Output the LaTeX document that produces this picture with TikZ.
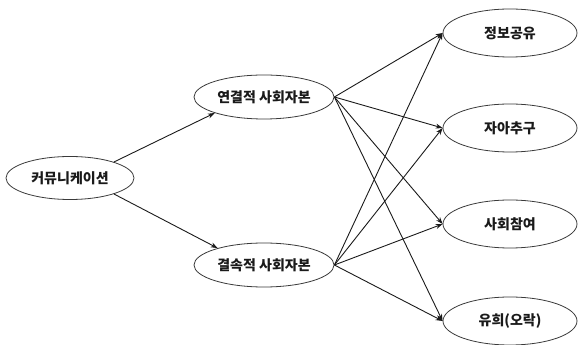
\documentclass[tikz,border=0pt]{standalone}
\usepackage{fontspec}
\setmainfont{Noto Sans CJK KR}
\usetikzlibrary{arrows.meta,shapes.geometric}
\definecolor{Ink}{HTML}{1A1A1A}
\definecolor{Rim}{HTML}{3A3A3A}

\tikzset{
  oval/.style={ellipse,draw=Rim,line width=0.8pt,inner sep=0pt,
    font=\fontsize{14}{16}\selectfont\bfseries,text=Ink},
  mid/.style={oval,minimum width=140pt,minimum height=44pt},
  goal/.style={oval,minimum width=134pt,minimum height=48pt},
  link/.style={draw=Ink,line width=0.9pt,-{Stealth[length=7pt,width=5pt]}}
}

\begin{document}
\begin{tikzpicture}[x=1pt,y=1pt]
  \useasboundingbox (0,0) rectangle (578,345);
  % source and the two kinds of capital
  \node[oval,minimum width=128pt,minimum height=43pt] (comm) at (70,167) {커뮤니케이션};
  \node[mid] (bridge) at (264,248) {연결적 사회자본};
  \node[mid] (bond) at (264,80) {결속적 사회자본};
  % outcomes
  \node[goal] (info) at (510,312) {정보공유};
  \node[goal] (self) at (510,217) {자아추구};
  \node[goal] (part) at (510,121) {사회참여};
  \node[goal] (fun) at (510,24) {유희(오락)};

  \draw[link] (comm.20) -- (bridge.198);
  \draw[link] (comm.-20) -- (bond.160);
  \foreach \src in {bridge,bond}
    \foreach \dst in {info,self,part,fun}
      \draw[link] (\src.east) -- (\dst.west);
\end{tikzpicture}
\end{document}
